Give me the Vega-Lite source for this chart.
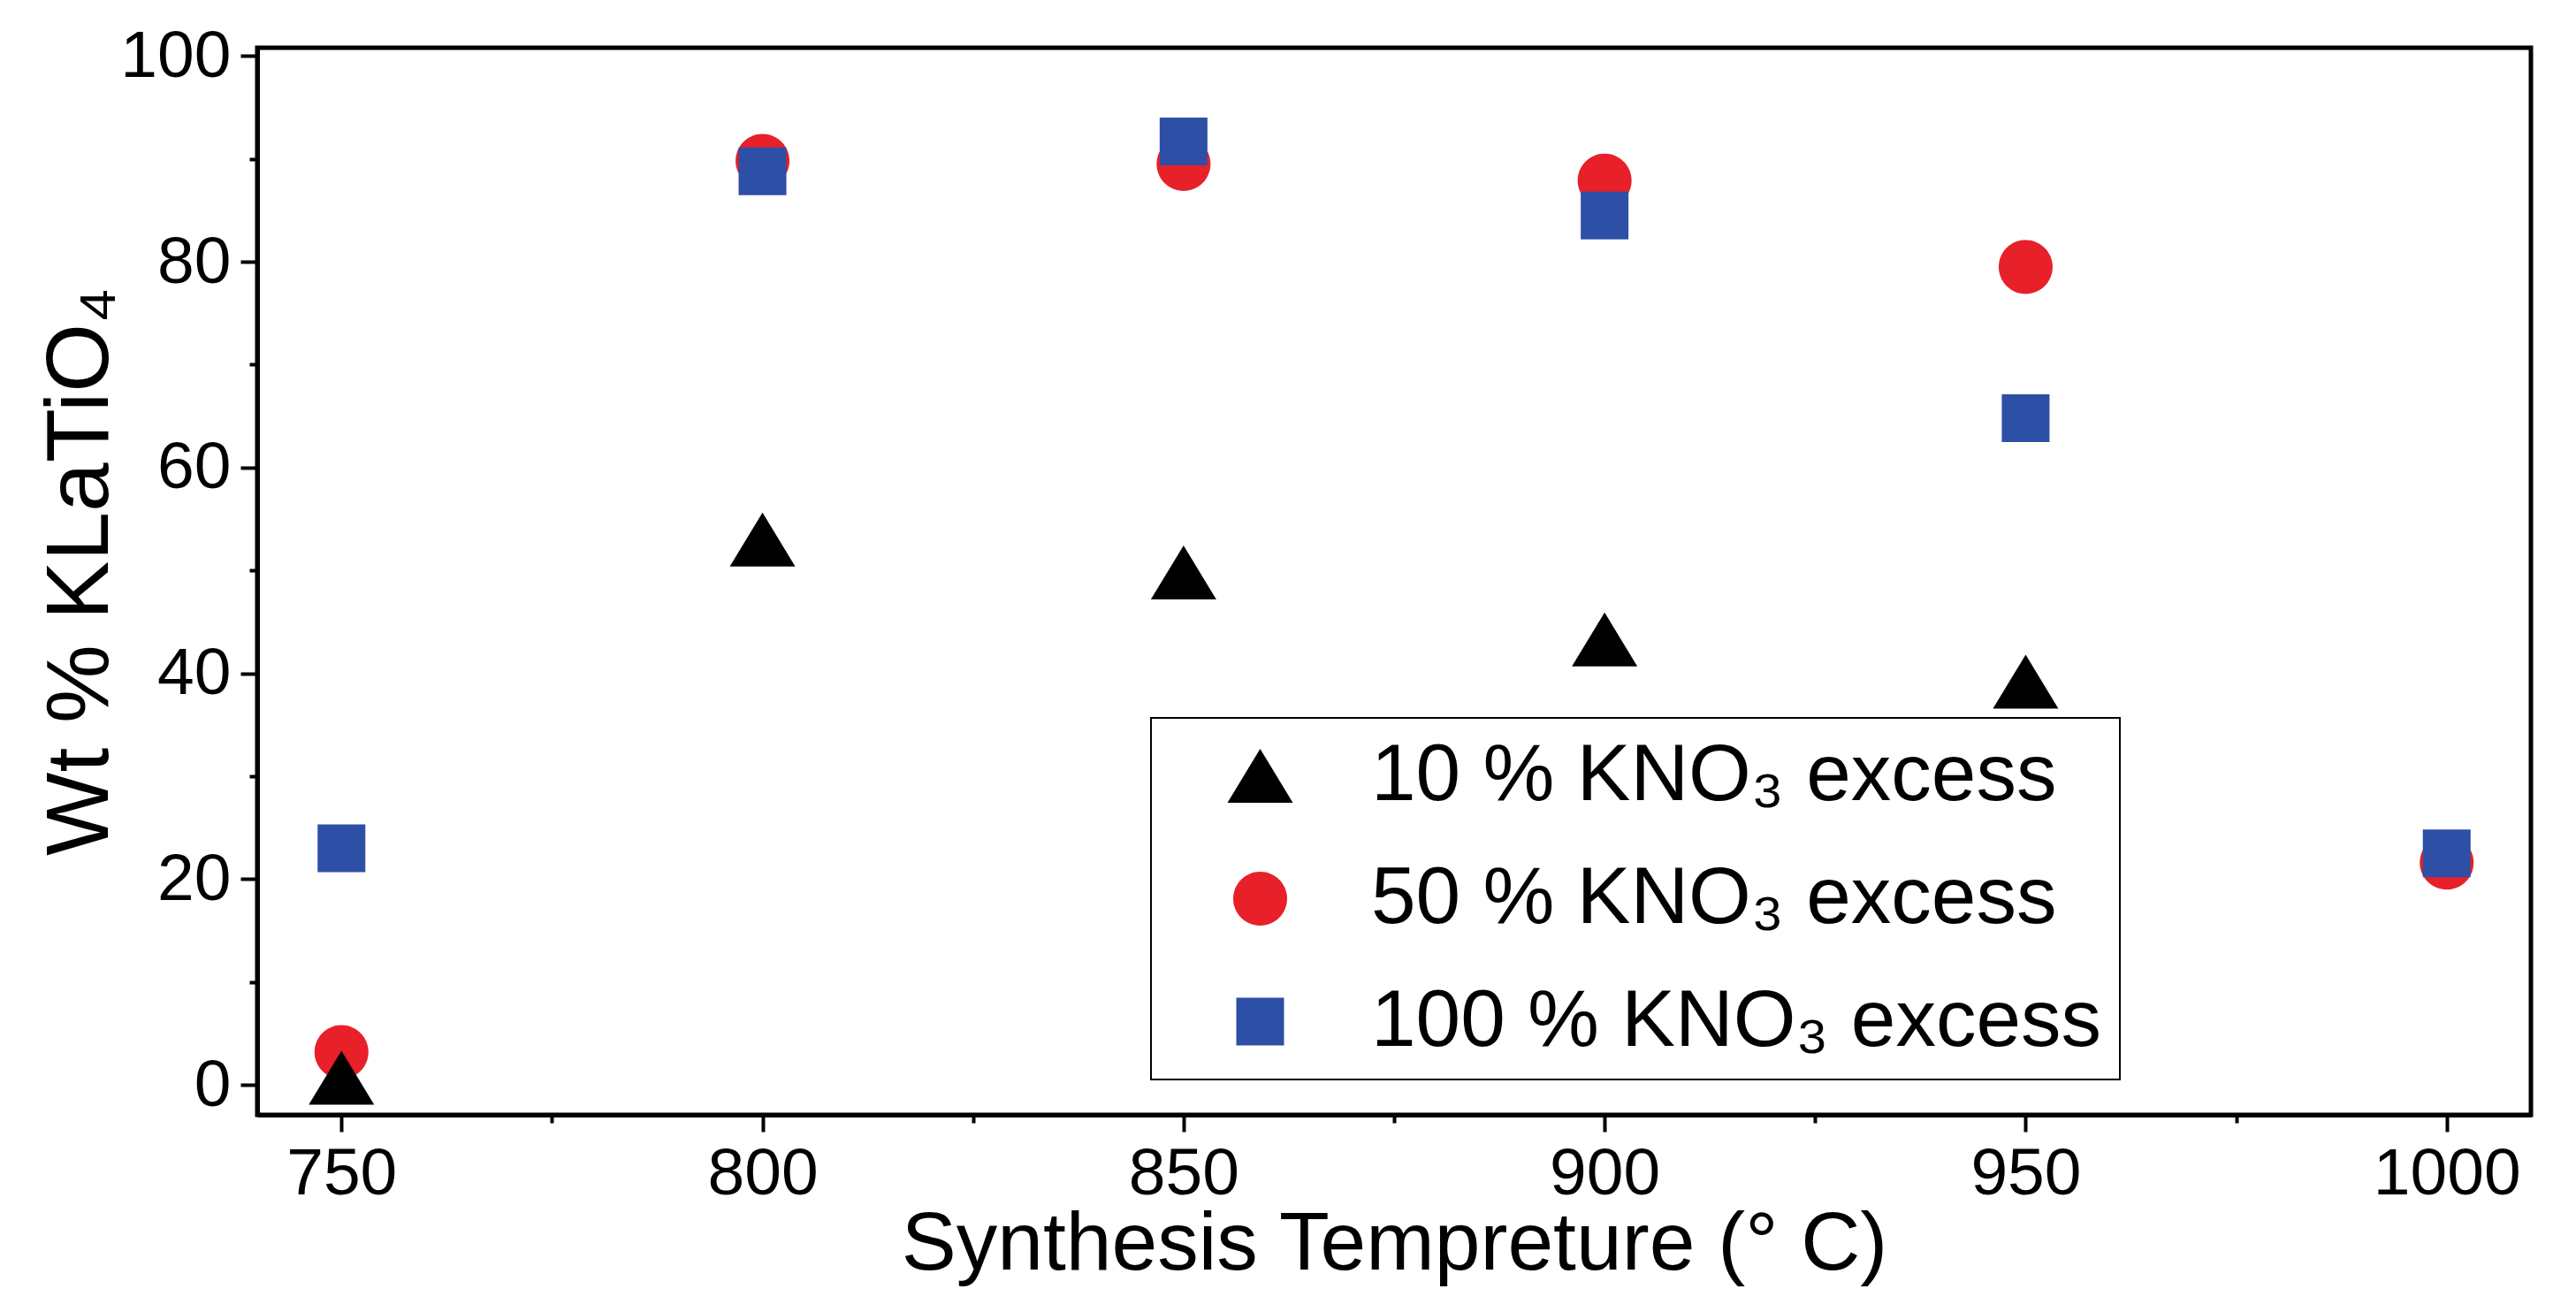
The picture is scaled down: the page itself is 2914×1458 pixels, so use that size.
{
  "$schema": "https://vega.github.io/schema/vega-lite/v6.json",
  "width": 2572,
  "height": 1207,
  "autosize": "none",
  "padding": {"left": 291, "top": 54, "right": 51, "bottom": 197},
  "background": "white",
  "config": {
    "font": "Liberation Sans",
    "view": {"stroke": "black", "strokeWidth": 5},
    "legend": {"strokeWidth": 2}
  },
  "data": {
    "values": [
      {"T": 750, "wt": 3.2, "series": "50 % KNO₃ excess"},
      {"T": 800, "wt": 89.8, "series": "50 % KNO₃ excess"},
      {"T": 850, "wt": 89.5, "series": "50 % KNO₃ excess"},
      {"T": 900, "wt": 87.9, "series": "50 % KNO₃ excess"},
      {"T": 950, "wt": 79.5, "series": "50 % KNO₃ excess"},
      {"T": 1000, "wt": 21.6, "series": "50 % KNO₃ excess"},
      {"T": 750, "wt": 23.0, "series": "100 % KNO₃ excess"},
      {"T": 800, "wt": 88.8, "series": "100 % KNO₃ excess"},
      {"T": 850, "wt": 91.7, "series": "100 % KNO₃ excess"},
      {"T": 900, "wt": 84.5, "series": "100 % KNO₃ excess"},
      {"T": 950, "wt": 64.8, "series": "100 % KNO₃ excess"},
      {"T": 1000, "wt": 22.5, "series": "100 % KNO₃ excess"},
      {"T": 750, "wt": 0.7, "series": "10 % KNO₃ excess"},
      {"T": 800, "wt": 53.0, "series": "10 % KNO₃ excess"},
      {"T": 850, "wt": 49.8, "series": "10 % KNO₃ excess"},
      {"T": 900, "wt": 43.3, "series": "10 % KNO₃ excess"},
      {"T": 950, "wt": 39.2, "series": "10 % KNO₃ excess"}
    ]
  },
  "layer": [
    {
      "mark": {"type": "point", "filled": true, "opacity": 1, "strokeWidth": 0, "size": 5476},
      "encoding": {
        "x": {
          "field": "T", "type": "quantitative",
          "scale": {"domain": [740, 1010], "nice": false, "zero": false},
          "axis": {
            "orient": "bottom",
            "values": [750, 800, 850, 900, 950, 1000],
            "format": "d",
            "labelFlush": false, "labelOverlap": false, "labelLimit": 1000,
            "grid": false,
            "tickSize": 19, "tickWidth": 4, "tickColor": "black",
            "domainWidth": 5, "domainColor": "black",
            "labelFontSize": 75, "labelColor": "black", "labelPadding": 11,
            "title": "Synthesis Tempreture (° C)",
            "titleFontSize": 93, "titleFontWeight": "normal", "titleColor": "black",
            "titleBaseline": "alphabetic", "titleY": 174
          }
        },
        "y": {
          "field": "wt", "type": "quantitative",
          "scale": {"domain": [-2.9, 100.8], "nice": false, "zero": false},
          "axis": {
            "orient": "left",
            "values": [0, 20, 40, 60, 80, 100],
            "format": "d",
            "labelFlush": false, "labelOverlap": false, "labelLimit": 1000,
            "grid": false,
            "tickSize": 19, "tickWidth": 4, "tickColor": "black",
            "domainWidth": 5, "domainColor": "black",
            "labelFontSize": 75, "labelColor": "black", "labelPadding": 11,
            "title": "Wt % KLaTiO₄",
            "titleFontSize": 100, "titleFontWeight": "normal", "titleColor": "black",
            "titleAngle": -90, "titleBaseline": "alphabetic", "titleAlign": "center",
            "titleX": -170, "titleY": 592
          }
        },
        "color": {
          "field": "series", "type": "nominal",
          "scale": {
            "domain": ["10 % KNO₃ excess", "50 % KNO₃ excess", "100 % KNO₃ excess"],
            "range": ["#000000", "#E8202A", "#2E4FA6"]
          },
          "legend": {
            "orient": "none", "legendX": 1011, "legendY": 758,
            "title": null,
            "strokeColor": "black", "fillColor": "white",
            "padding": 20,
            "symbolSize": 5476, "symbolStrokeWidth": 0, "symbolOpacity": 1,
            "symbolOffset": 58,
            "labelFontSize": 91, "labelColor": "black", "labelOffset": 80,
            "labelLimit": 2000,
            "rowPadding": 47
          }
        },
        "shape": {
          "field": "series", "type": "nominal",
          "scale": {
            "domain": ["10 % KNO₃ excess", "50 % KNO₃ excess", "100 % KNO₃ excess"],
            "range": [
              "M0,-0.824L1,0.824L-1,0.824Z",
              "M-0.824,0A0.824,0.824,0,1,0,0.824,0A0.824,0.824,0,1,0,-0.824,0Z",
              "M-0.73,-0.73L0.73,-0.73L0.73,0.73L-0.73,0.73Z"
            ]
          },
          "legend": {
            "orient": "none", "legendX": 1011, "legendY": 758,
            "title": null,
            "strokeColor": "black", "fillColor": "white",
            "padding": 20,
            "symbolSize": 5476, "symbolStrokeWidth": 0, "symbolOpacity": 1,
            "symbolOffset": 58,
            "labelFontSize": 91, "labelColor": "black", "labelOffset": 80,
            "labelLimit": 2000,
            "rowPadding": 47
          }
        }
      }
    },
    {
      "mark": {"type": "point", "opacity": 0},
      "encoding": {
        "x": {
          "field": "T", "type": "quantitative",
          "axis": {
            "orient": "bottom",
            "values": [775, 825, 875, 925, 975],
            "grid": false, "labels": false, "domain": false, "title": null,
            "tickSize": 9, "tickWidth": 4, "tickColor": "black"
          }
        },
        "y": {
          "field": "wt", "type": "quantitative",
          "axis": {
            "orient": "left",
            "values": [10, 30, 50, 70, 90],
            "grid": false, "labels": false, "domain": false, "title": null,
            "tickSize": 9, "tickWidth": 4, "tickColor": "black"
          }
        }
      }
    }
  ],
  "resolve": {"axis": {"x": "independent", "y": "independent"}}
}
